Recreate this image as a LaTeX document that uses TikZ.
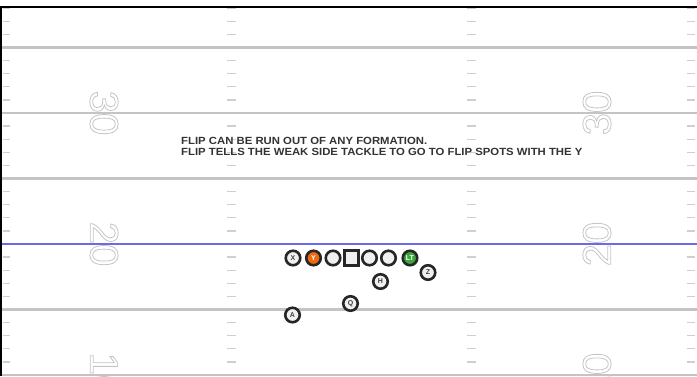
\documentclass[tikz,border=0pt]{standalone}
\usepackage{fontspec}
\setmainfont{Liberation Sans}
\newfontfamily\numfont{Liberation Sans}
\usetikzlibrary{positioning}

\definecolor{yardgray}{HTML}{C4C4C4}
\definecolor{hashgray}{HTML}{CFCFCF}
\definecolor{scrimblue}{HTML}{6A6AEE}
\definecolor{flipgreen}{HTML}{3DA83A}
\definecolor{yorange}{HTML}{EE6A10}
\definecolor{notegray}{HTML}{333333}

% outlined yard numbers
\newcommand{\yardnum}[1]{{\numfont\fontsize{40}{40}\selectfont
  \special{pdf:literal direct 1 Tr 0.8 w}#1\special{pdf:literal direct 0 Tr}}}

\begin{document}
\begin{tikzpicture}[x=1pt, y=-1pt,
   pl/.style={circle, draw=black!85, line width=2.6pt, fill=black!6,
              minimum size=14.5pt, inner sep=0pt, text=black!75,
              font=\bfseries\fontsize{7}{7}\selectfont},
   num/.style={text=yardgray, inner sep=0pt},
   note/.style={anchor=base west, inner sep=0pt, text=notegray, xscale=1.09,
                font=\bfseries\fontsize{10.4}{11}\selectfont}]
  \useasboundingbox (0,0) rectangle (697,376);
  % yard lines
  \foreach \yy in {47.5, 113, 178.5, 309.5, 375}
     \draw[yardgray, line width=2.5pt] (0,\yy) -- (697,\yy);
  \draw[scrimblue, line width=2pt] (0,244) -- (697,244);
  % hash marks
  \foreach \k in {-8,...,20} {
     \pgfmathtruncatemacro{\r}{mod(\k+100,5)}
     \ifnum\r>0
       \pgfmathsetmacro{\yy}{113+13.1*\k}
       \foreach \xa/\xb in {3/10, 227/236, 467/476, 687/695}
          \draw[hashgray, line width=1.3pt] (\xa,\yy) -- (\xb,\yy);
     \fi}
  % numbers
  \node[num, rotate=-90] (n30l) at (104,113) {\yardnum{30}};
  \node[num, rotate=90]  (n30r) at (597,113) {\yardnum{30}};
  \node[num, rotate=-90] (n20l) at (104,244) {\yardnum{20}};
  \node[num, rotate=90]  (n20r) at (597,244) {\yardnum{20}};
  \node[num, rotate=-90] (n10l) at (104,375) {\yardnum{10}};
  \node[num, rotate=90]  (n10r) at (597,375) {\yardnum{10}};
  % frame
  \draw[black, line width=2.5pt] (0,7) -- (697,7);
  \draw[black, line width=2.5pt] (1,7) -- (1,376);
  % note
  \node[note] (note1) at (181,144.3) {FLIP CAN BE RUN OUT OF ANY FORMATION.};
  \node[note] (note2) at (181,155) {FLIP TELLS THE WEAK SIDE TACKLE TO GO TO FLIP SPOTS WITH THE Y};
  % players
  \node[pl] (px) at (293,258) {X};
  \node[pl, fill=yorange, text=white] (py) at (313.5,258) {Y};
  \node[pl] (lg) at (333,258) {};
  \node[draw=black!85, line width=2.6pt, fill=black!6, minimum size=14.5pt,
        inner sep=0pt] (ctr) at (351.5,258) {};
  \node[pl] (rg) at (369.5,258) {};
  \node[pl] (rt) at (388.5,258) {};
  \node[pl, fill=flipgreen, text=white] (lt) at (410,258) {LT};
  \node[pl] (pz) at (428,272.5) {Z};
  \node[pl] (ph) at (380.5,281.5) {H};
  \node[pl] (pq) at (350.5,303.5) {Q};
  \node[pl] (pa) at (292.5,315) {A};
\end{tikzpicture}
\end{document}
